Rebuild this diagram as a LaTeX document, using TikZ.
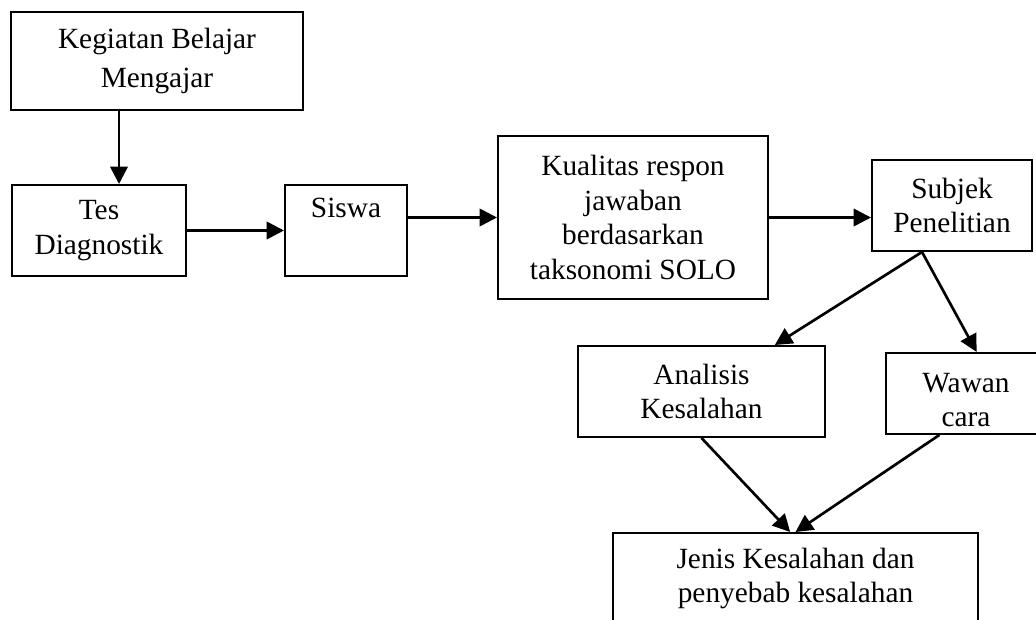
\documentclass[tikz,border=0pt]{standalone}
\usepackage{fontspec}
\setmainfont{Liberation Serif}
\usetikzlibrary{arrows.meta}
\begin{document}
\begin{tikzpicture}[x=0.75pt,y=-0.75pt,
  box/.style={draw=black,line width=1.5pt,rectangle,align=center,inner sep=0pt,
    font=\fontsize{22}{26}\selectfont},
  arr/.style={line width=2pt,-{Triangle[length=13pt,width=13pt]}}]
\clip (0,0) rectangle (1036,620);
\fill[white] (0,0) rectangle (1036,620);
\node[box,minimum width=292*0.75pt,minimum height=98*0.75pt] (kbm) at (157,61) {Kegiatan Belajar\\[3pt]Mengajar};
\node[box,minimum width=174*0.75pt,minimum height=91*0.75pt] (tes) at (99,230.5) {Tes\\Diagnostik};
\node[box,minimum width=122*0.75pt,minimum height=91*0.75pt] (siswa) at (346,230.5) {Siswa\\\strut};
\node[box,minimum width=270*0.75pt,minimum height=163*0.75pt] (kual) at (633,217.5) {Kualitas respon\\jawaban\\berdasarkan\\taksonomi SOLO};
\node[box,minimum width=160*0.75pt,minimum height=91*0.75pt] (subjek) at (952,205.5) {Subjek\\Penelitian};
\node[box,minimum width=247*0.75pt,minimum height=91*0.75pt] (anal) at (701.5,391.5) {Analisis\\Kesalahan};
\node[box,minimum width=160*0.75pt,minimum height=81*0.75pt] (wawan) at (966,393.5) {\rule{0pt}{24pt}Wawan\\cara};
\node[box,minimum width=365*0.75pt,minimum height=91*0.75pt] (jenis) at (795.5,578.5) {Jenis Kesalahan dan\\penyebab kesalahan};
\draw[arr] ([xshift=-28.5pt]kbm.south) -- ([xshift=-28.5pt]kbm.south |- tes.north);
\draw[arr] (tes.east) -- (siswa.east -| siswa.west);
\draw[arr] (siswa.east |- kual.west) -- (kual.west);
\draw[arr] (kual.east) -- (kual.east -| subjek.west);
\draw[arr] ([xshift=-22.5pt]subjek.south) -- ([xshift=55pt]anal.north);
\draw[arr] ([xshift=-22.5pt]subjek.south) -- ([xshift=8pt]wawan.north);
\draw[arr] (anal.south) -- ([xshift=-4pt]jenis.north);
\draw[arr] ([xshift=-20pt]wawan.south) -- (jenis.north);
\end{tikzpicture}
\end{document}
